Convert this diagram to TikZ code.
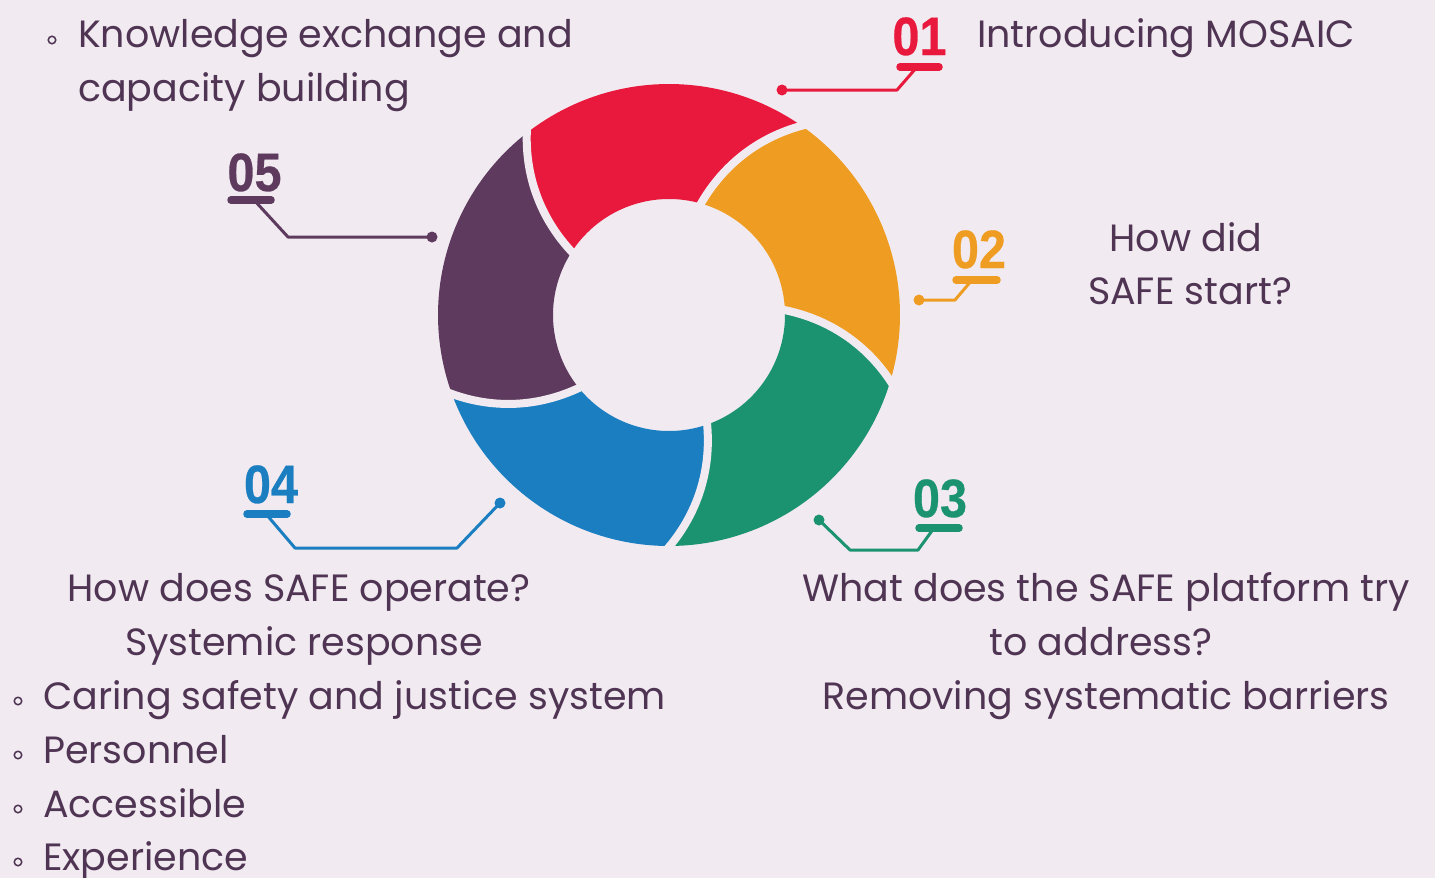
\documentclass[tikz,border=0pt]{standalone}
\usepackage{fontspec}
\setmainfont{Poppins}
\newfontfamily\numfont{Liberation Sans}[FakeStretch=0.9,FakeBold=0.5]
\definecolor{bgc}{HTML}{F1EBF1}
\definecolor{txc}{HTML}{4F3553}
\definecolor{cred}{HTML}{E8193C}
\definecolor{corange}{HTML}{EE9D22}
\definecolor{cgreen}{HTML}{1B9370}
\definecolor{cblue}{HTML}{1A7EC0}
\definecolor{cpurple}{HTML}{5E3B5E}
\def\cx{669}\def\cy{315}\def\ri{116}\def\ro{231}\def\sp{19}
\newcommand{\ringseg}[3]{%
  \fill[#1] plot[domain=0:1,samples=30] ({\cx+(\ri+(\ro-\ri)*\x)*cos(#2-\sp*\x*(0.75+0.25*\x))},{\cy-(\ri+(\ro-\ri)*\x)*sin(#2-\sp*\x*(0.75+0.25*\x))})
  -- plot[domain=#2-\sp:#3-\sp,samples=50] ({\cx+\ro*cos(\x)},{\cy-\ro*sin(\x)})
  -- plot[domain=1:0,samples=30] ({\cx+(\ri+(\ro-\ri)*\x)*cos(#3-\sp*\x*(0.75+0.25*\x))},{\cy-(\ri+(\ro-\ri)*\x)*sin(#3-\sp*\x*(0.75+0.25*\x))})
  -- plot[domain=#3:#2,samples=50] ({\cx+\ri*cos(\x)},{\cy-\ri*sin(\x)}) -- cycle;}
\newcommand{\gapline}[1]{%
  \draw[bgc,line width=8pt] plot[domain=-0.06:1.06,samples=30] ({\cx+(\ri+(\ro-\ri)*\x)*cos(#1-\sp*\x*(0.75+0.25*\x))},{\cy-(\ri+(\ro-\ri)*\x)*sin(#1-\sp*\x*(0.75+0.25*\x))});}
\begin{document}
\begin{tikzpicture}[x=1pt,y=-1pt,
  txt/.style={text=txc,font=\fontsize{38}{44}\selectfont,inner sep=0pt},
  num/.style={font=\numfont\bfseries\fontsize{54}{54}\selectfont,inner sep=0pt,anchor=base},
  numbar/.style={line width=7.5pt,line cap=round},
  conn/.style={line width=3pt,line join=round},
  dotn/.style={circle,inner sep=0pt,minimum size=11pt},
  bul/.style={circle,draw=txc,line width=1.5pt,inner sep=0pt,minimum size=7.5pt}]
\fill[bgc] (0,0) rectangle (1435,878);
\useasboundingbox (0,0) rectangle (1435,878);
% ring
\ringseg{cred}{147}{74}
\ringseg{corange}{74}{2.4}
\ringseg{cgreen}{2.4}{-70.8}
\ringseg{cblue}{-70.8}{-141}
\ringseg{cpurple}{-141}{-213}
\gapline{147}\gapline{74}\gapline{2.4}\gapline{-70.8}\gapline{-141}
% 01
\node[num,text=cred] (n1) at (919.5,55) {01};
\coordinate (b1a) at (900,67); \coordinate (b1b) at (939,67); \coordinate (b1m) at (917,67);
\draw[cred,numbar] (b1a) -- (b1b);
\node[dotn,fill=cred] (d1) at (782,90) {};
\draw[cred,conn] (d1.center) -- (897,90) -- (b1m);
\node[txt,anchor=base west] (t1) at (977,47) {Introducing MOSAIC};
% 02
\node[num,text=corange] (n2) at (979,268) {02};
\coordinate (b2a) at (956,280); \coordinate (b2b) at (997,280); \coordinate (b2m) at (972,280);
\draw[corange,numbar] (b2a) -- (b2b);
\node[dotn,fill=corange] (d2) at (919,300) {};
\draw[corange,conn] (d2.center) -- (955,300) -- (b2m);
\node[txt,anchor=base] (t2a) at (1186,251) {How did};
\node[txt,anchor=base] (t2b) at (1190,304) {SAFE start?};
% 03
\node[num,text=cgreen] (n3) at (940,517) {03};
\coordinate (b3a) at (919,528); \coordinate (b3b) at (959,528); \coordinate (b3m) at (934,528);
\draw[cgreen,numbar] (b3a) -- (b3b);
\node[dotn,fill=cgreen] (d3) at (819,520) {};
\draw[cgreen,conn] (d3.center) -- (850,550) -- (918,550) -- (b3m);
\node[txt,anchor=base] (t3a) at (1106,601) {What does the SAFE platform try};
\node[txt,anchor=base] (t3b) at (1101,655) {to address?};
\node[txt,anchor=base] (t3c) at (1106,709) {Removing systematic barriers};
% 04
\node[num,text=cblue] (n4) at (271,503) {04};
\coordinate (b4a) at (247,514); \coordinate (b4b) at (287,514); \coordinate (b4m) at (266,514);
\draw[cblue,numbar] (b4a) -- (b4b);
\node[dotn,fill=cblue] (d4) at (500,503) {};
\draw[cblue,conn] (b4m) -- (295,548) -- (457,548) -- (d4.center);
\node[txt,anchor=base] (t4a) at (299,601) {How does SAFE operate?};
\node[txt,anchor=base] (t4b) at (304,655) {Systemic response};
\node[bul] (u1) at (18,701) {};
\node[txt,anchor=base west] (t4c) at (43,709) {Caring safety and justice system};
\node[bul] (u2) at (18,755) {};
\node[txt,anchor=base west] (t4d) at (43,763) {Personnel};
\node[bul] (u3) at (18,809) {};
\node[txt,anchor=base west] (t4e) at (43,817) {Accessible};
\node[bul] (u4) at (18,862) {};
\node[txt,anchor=base west] (t4f) at (43,870) {Experience};
% 05
\node[num,text=cpurple] (n5) at (254.5,191) {05};
\coordinate (b5a) at (231,200); \coordinate (b5b) at (271,200); \coordinate (b5m) at (254,200);
\draw[cpurple,numbar] (b5a) -- (b5b);
\node[dotn,fill=cpurple] (d5) at (432,237) {};
\draw[cpurple,conn] (b5m) -- (288,237) -- (d5.center);
\node[bul] (u0) at (52,40) {};
\node[txt,anchor=base west] (t5a) at (78,47) {Knowledge exchange and};
\node[txt,anchor=base west] (t5b) at (78,101) {capacity building};
\end{tikzpicture}
\end{document}
